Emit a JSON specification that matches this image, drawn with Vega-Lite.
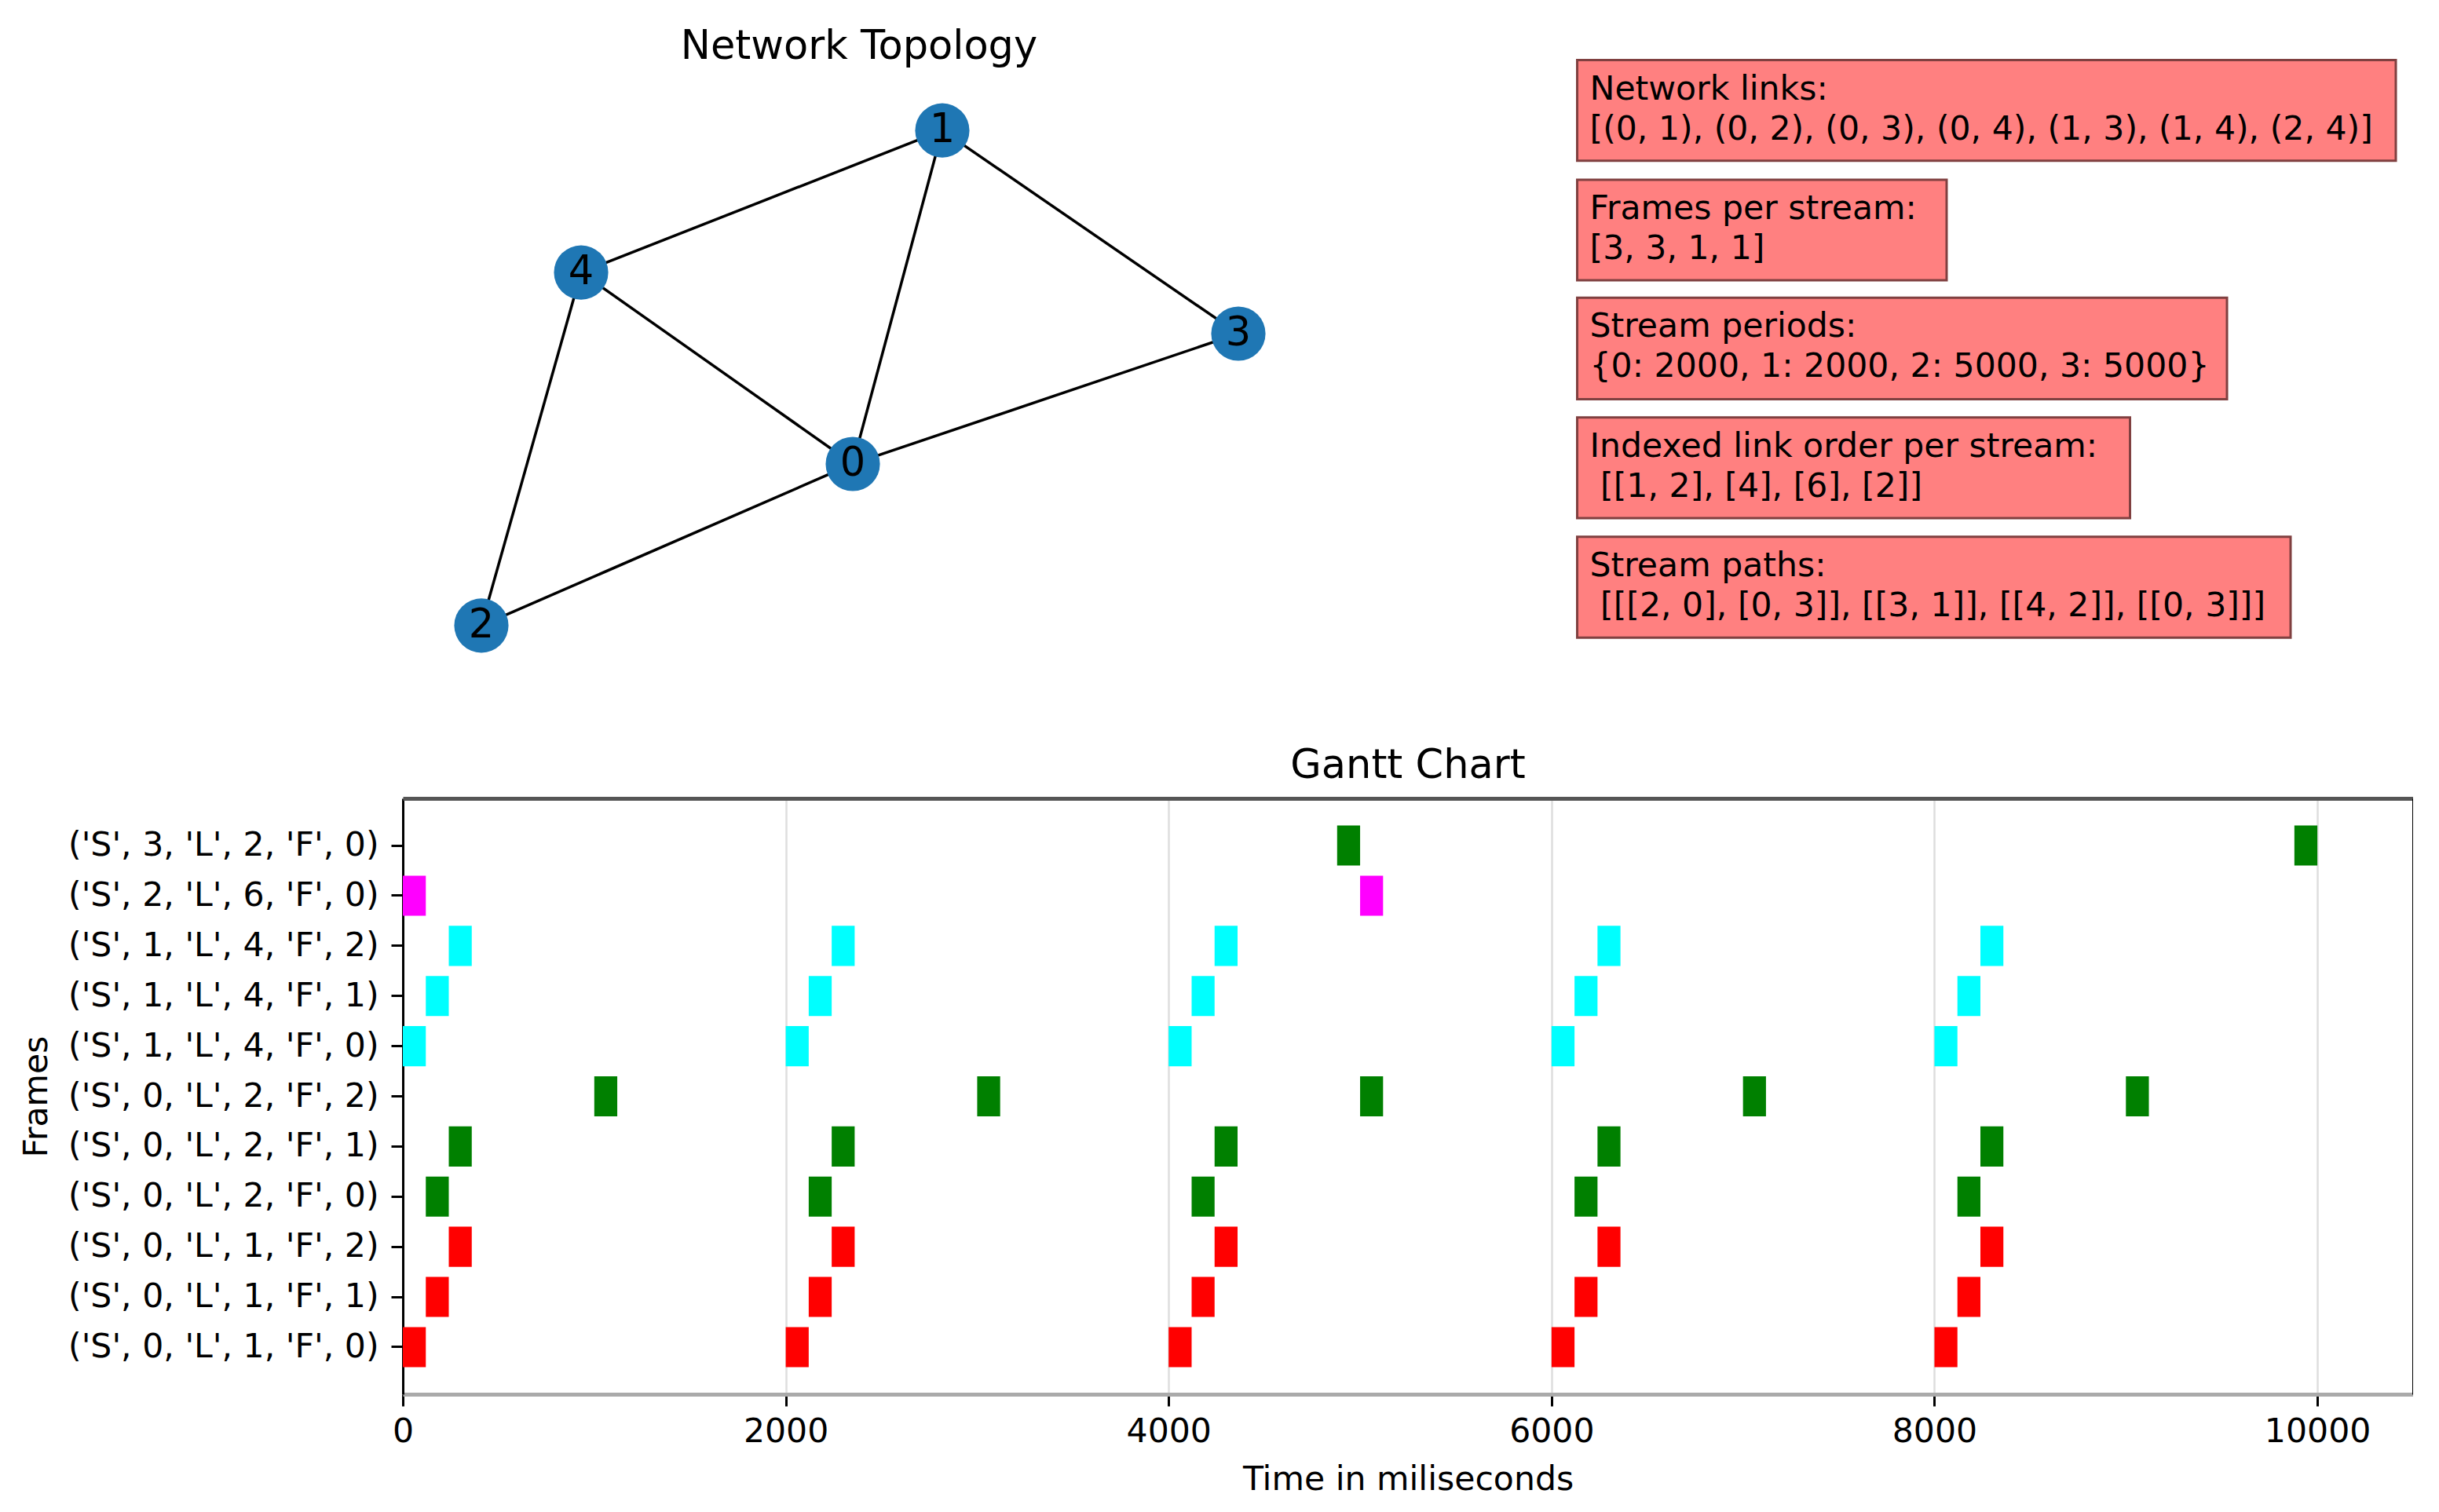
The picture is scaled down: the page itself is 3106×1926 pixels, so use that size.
{
  "$schema": "https://vega.github.io/schema/vega-lite/v6.json",
  "background": "white",
  "padding": {"left": 25, "top": 34, "right": 0, "bottom": 0},
  "spacing": 84,
  "config": {
    "view": {"stroke": null},
    "font": "DejaVu Sans",
    "title": {"font": "DejaVu Sans", "fontSize": 51, "fontWeight": "normal", "color": "black", "offset": 15},
    "axis": {
      "labelFont": "DejaVu Sans", "labelFontSize": 42.6, "labelColor": "black",
      "titleFont": "DejaVu Sans", "titleFontSize": 42.6, "titleColor": "black", "titleFontWeight": "normal",
      "tickColor": "black", "tickWidth": 3, "tickSize": 15
    }
  },
  "datasets": {
    "nodes": [
      {"node": 0, "x": -0.0197, "y": -0.2285},
      {"node": 1, "x": 0.2170, "y": 0.6542},
      {"node": 2, "x": -1.0021, "y": -0.6563},
      {"node": 3, "x": 1.0000, "y": 0.1163},
      {"node": 4, "x": -0.7383, "y": 0.2783}
    ],
    "edges": [
      {"source": 0, "target": 1},
      {"source": 0, "target": 2},
      {"source": 0, "target": 3},
      {"source": 0, "target": 4},
      {"source": 1, "target": 3},
      {"source": 1, "target": 4},
      {"source": 2, "target": 4}
    ],
    "boxes": [
      {"box": 1, "text": "Network links:\n[(0, 1), (0, 2), (0, 3), (0, 4), (1, 3), (1, 4), (2, 4)]", "x1": 1.8962, "x2": 4.0613, "y1": 0.8405, "y2": 0.5742},
      {"box": 2, "text": "Frames per stream:\n[3, 3, 1, 1]", "x1": 1.8962, "x2": 2.8733, "y1": 0.5238, "y2": 0.2575},
      {"box": 3, "text": "Stream periods:\n{0: 2000, 1: 2000, 2: 5000, 3: 5000}", "x1": 1.8962, "x2": 3.6148, "y1": 0.2112, "y2": -0.0571},
      {"box": 4, "text": "Indexed link order per stream:\n\u200b\u00a0[[1, 2], [4], [6], [2]]", "x1": 1.8962, "x2": 3.3583, "y1": -0.1057, "y2": -0.3718},
      {"box": 5, "text": "Stream paths:\n\u200b\u00a0[[[2, 0], [0, 3]], [[3, 1]], [[4, 2]], [[0, 3]]]", "x1": 1.8962, "x2": 3.7830, "y1": -0.4212, "y2": -0.6885}
    ],
    "frames": [
      {"frame": "('S', 0, 'L', 1, 'F', 0)", "link": 1, "start": 0, "end": 120},
      {"frame": "('S', 0, 'L', 1, 'F', 0)", "link": 1, "start": 2000, "end": 2120},
      {"frame": "('S', 0, 'L', 1, 'F', 0)", "link": 1, "start": 4000, "end": 4120},
      {"frame": "('S', 0, 'L', 1, 'F', 0)", "link": 1, "start": 6000, "end": 6120},
      {"frame": "('S', 0, 'L', 1, 'F', 0)", "link": 1, "start": 8000, "end": 8120},
      {"frame": "('S', 0, 'L', 1, 'F', 1)", "link": 1, "start": 120, "end": 240},
      {"frame": "('S', 0, 'L', 1, 'F', 1)", "link": 1, "start": 2120, "end": 2240},
      {"frame": "('S', 0, 'L', 1, 'F', 1)", "link": 1, "start": 4120, "end": 4240},
      {"frame": "('S', 0, 'L', 1, 'F', 1)", "link": 1, "start": 6120, "end": 6240},
      {"frame": "('S', 0, 'L', 1, 'F', 1)", "link": 1, "start": 8120, "end": 8240},
      {"frame": "('S', 0, 'L', 1, 'F', 2)", "link": 1, "start": 240, "end": 360},
      {"frame": "('S', 0, 'L', 1, 'F', 2)", "link": 1, "start": 2240, "end": 2360},
      {"frame": "('S', 0, 'L', 1, 'F', 2)", "link": 1, "start": 4240, "end": 4360},
      {"frame": "('S', 0, 'L', 1, 'F', 2)", "link": 1, "start": 6240, "end": 6360},
      {"frame": "('S', 0, 'L', 1, 'F', 2)", "link": 1, "start": 8240, "end": 8360},
      {"frame": "('S', 0, 'L', 2, 'F', 0)", "link": 2, "start": 120, "end": 240},
      {"frame": "('S', 0, 'L', 2, 'F', 0)", "link": 2, "start": 2120, "end": 2240},
      {"frame": "('S', 0, 'L', 2, 'F', 0)", "link": 2, "start": 4120, "end": 4240},
      {"frame": "('S', 0, 'L', 2, 'F', 0)", "link": 2, "start": 6120, "end": 6240},
      {"frame": "('S', 0, 'L', 2, 'F', 0)", "link": 2, "start": 8120, "end": 8240},
      {"frame": "('S', 0, 'L', 2, 'F', 1)", "link": 2, "start": 240, "end": 360},
      {"frame": "('S', 0, 'L', 2, 'F', 1)", "link": 2, "start": 2240, "end": 2360},
      {"frame": "('S', 0, 'L', 2, 'F', 1)", "link": 2, "start": 4240, "end": 4360},
      {"frame": "('S', 0, 'L', 2, 'F', 1)", "link": 2, "start": 6240, "end": 6360},
      {"frame": "('S', 0, 'L', 2, 'F', 1)", "link": 2, "start": 8240, "end": 8360},
      {"frame": "('S', 0, 'L', 2, 'F', 2)", "link": 2, "start": 1000, "end": 1120},
      {"frame": "('S', 0, 'L', 2, 'F', 2)", "link": 2, "start": 3000, "end": 3120},
      {"frame": "('S', 0, 'L', 2, 'F', 2)", "link": 2, "start": 5000, "end": 5120},
      {"frame": "('S', 0, 'L', 2, 'F', 2)", "link": 2, "start": 7000, "end": 7120},
      {"frame": "('S', 0, 'L', 2, 'F', 2)", "link": 2, "start": 9000, "end": 9120},
      {"frame": "('S', 1, 'L', 4, 'F', 0)", "link": 4, "start": 0, "end": 120},
      {"frame": "('S', 1, 'L', 4, 'F', 0)", "link": 4, "start": 2000, "end": 2120},
      {"frame": "('S', 1, 'L', 4, 'F', 0)", "link": 4, "start": 4000, "end": 4120},
      {"frame": "('S', 1, 'L', 4, 'F', 0)", "link": 4, "start": 6000, "end": 6120},
      {"frame": "('S', 1, 'L', 4, 'F', 0)", "link": 4, "start": 8000, "end": 8120},
      {"frame": "('S', 1, 'L', 4, 'F', 1)", "link": 4, "start": 120, "end": 240},
      {"frame": "('S', 1, 'L', 4, 'F', 1)", "link": 4, "start": 2120, "end": 2240},
      {"frame": "('S', 1, 'L', 4, 'F', 1)", "link": 4, "start": 4120, "end": 4240},
      {"frame": "('S', 1, 'L', 4, 'F', 1)", "link": 4, "start": 6120, "end": 6240},
      {"frame": "('S', 1, 'L', 4, 'F', 1)", "link": 4, "start": 8120, "end": 8240},
      {"frame": "('S', 1, 'L', 4, 'F', 2)", "link": 4, "start": 240, "end": 360},
      {"frame": "('S', 1, 'L', 4, 'F', 2)", "link": 4, "start": 2240, "end": 2360},
      {"frame": "('S', 1, 'L', 4, 'F', 2)", "link": 4, "start": 4240, "end": 4360},
      {"frame": "('S', 1, 'L', 4, 'F', 2)", "link": 4, "start": 6240, "end": 6360},
      {"frame": "('S', 1, 'L', 4, 'F', 2)", "link": 4, "start": 8240, "end": 8360},
      {"frame": "('S', 2, 'L', 6, 'F', 0)", "link": 6, "start": 0, "end": 120},
      {"frame": "('S', 2, 'L', 6, 'F', 0)", "link": 6, "start": 5000, "end": 5120},
      {"frame": "('S', 3, 'L', 2, 'F', 0)", "link": 2, "start": 4880, "end": 5000},
      {"frame": "('S', 3, 'L', 2, 'F', 0)", "link": 2, "start": 9880, "end": 10000}
    ]
  },
  "vconcat": [
    {
      "width": 2560,
      "height": 770,
      "title": {"text": "Network Topology", "anchor": "middle", "dx": -699, "offset": -11},
      "layer": [
        {
          "data": {"name": "edges"},
          "transform": [
            {"lookup": "source", "from": {"data": {"name": "nodes"}, "key": "node", "fields": ["x", "y"]}, "as": ["sx", "sy"]},
            {"lookup": "target", "from": {"data": {"name": "nodes"}, "key": "node", "fields": ["x", "y"]}, "as": ["tx", "ty"]}
          ],
          "mark": {"type": "rule", "color": "black", "strokeWidth": 3.5},
          "encoding": {
            "x": {"field": "sx", "type": "quantitative", "scale": {"domain": [-1.2098, 4.107], "nice": false, "zero": false}, "axis": null},
            "y": {"field": "sy", "type": "quantitative", "scale": {"domain": [-0.8, 0.8], "nice": false, "zero": false}, "axis": null},
            "x2": {"field": "tx"},
            "y2": {"field": "ty"}
          }
        },
        {
          "data": {"name": "nodes"},
          "mark": {"type": "point", "filled": true, "color": "#1f77b4", "opacity": 1, "size": 4780},
          "encoding": {
            "x": {"field": "x", "type": "quantitative", "scale": {"domain": [-1.2098, 4.107], "nice": false, "zero": false}, "axis": null},
            "y": {"field": "y", "type": "quantitative", "scale": {"domain": [-0.8, 0.8], "nice": false, "zero": false}, "axis": null}
          }
        },
        {
          "data": {"name": "nodes"},
          "mark": {"type": "text", "fontSize": 51, "font": "DejaVu Sans", "color": "black", "align": "center", "baseline": "middle"},
          "encoding": {
            "x": {"field": "x", "type": "quantitative", "axis": null},
            "y": {"field": "y", "type": "quantitative", "axis": null},
            "text": {"field": "node", "type": "nominal"}
          }
        },
        {
          "data": {"name": "boxes"},
          "mark": {"type": "rect", "fill": "#ff8080", "stroke": "#804040", "strokeWidth": 3},
          "encoding": {
            "x": {"field": "x1", "type": "quantitative", "axis": null},
            "x2": {"field": "x2"},
            "y": {"field": "y1", "type": "quantitative", "axis": null},
            "y2": {"field": "y2"}
          }
        },
        {
          "data": {"name": "boxes"},
          "mark": {"type": "text", "fontSize": 42.6, "font": "DejaVu Sans", "color": "black", "align": "left", "baseline": "top", "dx": 16, "dy": 16, "lineBreak": "\n", "lineHeight": 51},
          "encoding": {
            "x": {"field": "x1", "type": "quantitative", "axis": null},
            "y": {"field": "y1", "type": "quantitative", "axis": null},
            "text": {"field": "text", "type": "nominal"}
          }
        }
      ]
    },
    {
      "width": 2560,
      "height": 759,
      "title": {"text": "Gantt Chart", "anchor": "middle"},
      "data": {"name": "frames"},
      "layer": [
        {
          "mark": {"type": "bar"},
          "encoding": {
            "y": {
              "field": "frame", "type": "nominal", "title": "Frames",
              "scale": {
                "domain": ["('S', 3, 'L', 2, 'F', 0)", "('S', 2, 'L', 6, 'F', 0)", "('S', 1, 'L', 4, 'F', 2)", "('S', 1, 'L', 4, 'F', 1)", "('S', 1, 'L', 4, 'F', 0)", "('S', 0, 'L', 2, 'F', 2)", "('S', 0, 'L', 2, 'F', 1)", "('S', 0, 'L', 2, 'F', 0)", "('S', 0, 'L', 1, 'F', 2)", "('S', 0, 'L', 1, 'F', 1)", "('S', 0, 'L', 1, 'F', 0)"],
                "paddingInner": 0.2, "paddingOuter": 0.54
              },
              "axis": {"orient": "left", "domainColor": "black", "domainWidth": 3, "labelPadding": 16, "titleX": -444.5, "labelLimit": 1000, "bandPosition": 0.5, "grid": false}
            },
            "x": {
              "field": "start", "type": "quantitative", "title": "Time in miliseconds",
              "scale": {"domain": [0, 10500], "nice": false, "zero": false},
              "axis": {"orient": "bottom", "values": [0, 2000, 4000, 6000, 8000, 10000], "format": "d", "grid": true, "gridColor": "#dedede", "gridWidth": 2.5, "domainColor": "#aaaaaa", "domainWidth": 5, "labelPadding": 11, "titlePadding": 19, "labelFlush": false, "labelOverlap": false}
            },
            "x2": {"field": "end"},
            "color": {"field": "link", "type": "nominal", "scale": {"domain": [1, 2, 4, 6], "range": ["#ff0000", "#008000", "#00ffff", "#ff00ff"]}, "legend": null}
          }
        },
        {
          "mark": {"type": "bar", "opacity": 0},
          "encoding": {
            "y": {"field": "frame", "type": "nominal", "axis": {"orient": "right", "labels": false, "ticks": false, "grid": false, "domainColor": "black", "domainWidth": 3, "title": null, "zindex": 1}},
            "x": {"field": "start", "type": "quantitative", "axis": {"orient": "top", "labels": false, "ticks": false, "grid": false, "domainColor": "#555555", "domainWidth": 5, "title": null, "zindex": 1}},
            "x2": {"field": "end"}
          }
        }
      ],
      "resolve": {"axis": {"x": "independent", "y": "independent"}}
    }
  ]
}
